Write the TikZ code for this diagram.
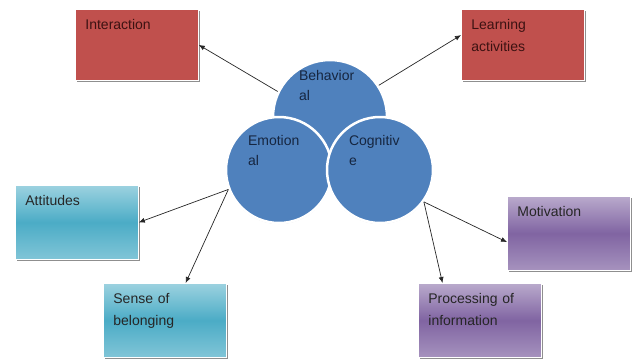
\documentclass[tikz,border=0pt]{standalone}
\usepackage{fontspec}
\setmainfont{Liberation Sans}
\usepackage{tikz}
\usetikzlibrary{arrows.meta,shadows}

\definecolor{boxred}{RGB}{192,80,77}
\definecolor{boxteal}{RGB}{75,172,198}
\definecolor{boxpurple}{RGB}{128,100,162}
\definecolor{ballblue}{RGB}{79,129,189}
\definecolor{inkred}{RGB}{60,18,18}
\definecolor{inkblue}{RGB}{22,38,64}

\begin{document}
\begin{tikzpicture}[x=1pt, y=-1pt,
    box/.style = {rectangle, anchor=north west, draw=white, line width=0.8pt,
                  text width=103pt, align=left, inner xsep=10pt, inner ysep=6pt,
                  text height=14pt, text depth=48pt,
                  font=\fontsize{14}{22}\selectfont,
                  drop shadow={shadow xshift=2pt, shadow yshift=-2pt, fill=black!55, opacity=.8}},
    redbox/.style = {box, fill=boxred, text=inkred, text depth=45pt},
    tealbox/.style = {box, top color=boxteal!55, bottom color=boxteal!70, middle color=boxteal, text=black!85},
    purplebox/.style = {box, top color=boxpurple!55, bottom color=boxpurple!70, middle color=boxpurple, text=black!85},
    ball/.style = {circle, fill=ballblue, draw=white, line width=2.5pt, inner sep=0pt,
                   text width=62pt, align=left, text height=10pt, text=inkblue,
                   font=\fontsize{14}{20}\selectfont,
                   drop shadow={shadow xshift=0pt, shadow yshift=-1pt, fill=black!40, opacity=.5}},
    arr/.style = {-{Latex[length=6pt,width=5pt]}, black!85, line width=0.7pt}]

    % frame of the picture
    \useasboundingbox (0,0) rectangle (634,360);

    % three circles (Behavioral at the back)
    \node[ball, minimum size=114pt, text depth=84pt] (beh) at (330,117) {Behavior\\al};
    \node[ball, minimum size=106pt, text depth=60pt] (emo) at (279,170) {Emotion\\al};
    \node[ball, minimum size=106pt, text depth=60pt] (cog) at (380,170) {Cognitiv\\e};

    % boxes
    \node[redbox] (inter) at (75,9) {Interaction};
    \node[redbox] (learn) at (461,9) {Learning\\activities};
    \node[tealbox] (att) at (15,185) {Attitudes};
    \node[tealbox] (sense) at (103,283) {Sense of\\belonging};
    \node[purplebox] (mot) at (507,196) {Motivation};
    \node[purplebox] (proc) at (418,283) {Processing of\\information};

    % arrows
    \draw[arr] (beh.154) -- (inter.east);
    \draw[arr] (beh.33) -- (learn.171);
    \draw[arr] (emo.201) -- (att.east);
    \draw[arr] (emo.201) -- (sense.61);
    \draw[arr] (cog.324) -- (mot.188);
    \draw[arr] (cog.324) -- (proc.135);
\end{tikzpicture}
\end{document}
